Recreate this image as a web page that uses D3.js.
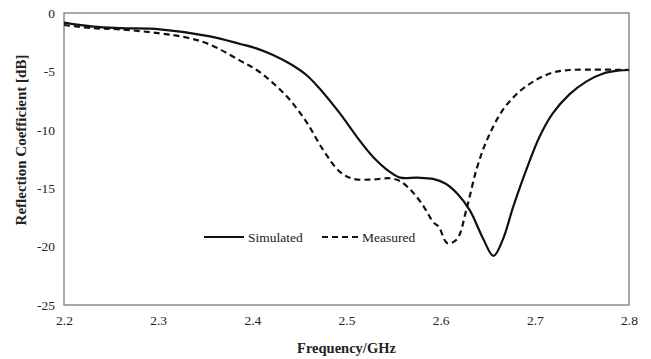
<!DOCTYPE html>
<html>
<head>
<meta charset="utf-8">
<script src="https://cdn.jsdelivr.net/npm/d3@7"></script>
<style>
  html, body { margin: 0; padding: 0; background: #fff; }
  svg { display: block; }
  text { font-family: "Liberation Serif", "Times New Roman", serif; fill: #222; }
</style>
</head>
<body>
<svg id="chart" width="651" height="359"></svg>
<script>
// Reflection coefficient (dB) vs frequency (GHz)
const simFreq = [2.2, 2.231, 2.26, 2.302, 2.355, 2.387, 2.405, 2.422, 2.44, 2.458, 2.475, 2.493, 2.511, 2.528, 2.546, 2.557, 2.575, 2.592, 2.605, 2.618, 2.631, 2.645, 2.656, 2.666, 2.677, 2.692, 2.705, 2.719, 2.737, 2.755, 2.772, 2.79, 2.8];
const simDb   = [-0.83, -1.17, -1.3, -1.4, -2.0, -2.65, -3.05, -3.6, -4.35, -5.35, -6.8, -8.6, -10.6, -12.3, -13.6, -14.1, -14.1, -14.2, -14.6, -15.5, -16.9, -19.3, -20.8, -19.4, -16.6, -13.2, -10.6, -8.6, -6.95, -5.85, -5.2, -4.92, -4.88];

const measFreq = [2.2, 2.231, 2.26, 2.302, 2.33, 2.355, 2.387, 2.405, 2.422, 2.44, 2.458, 2.475, 2.493, 2.507, 2.528, 2.546, 2.557, 2.571, 2.583, 2.592, 2.598, 2.607, 2.617, 2.628, 2.638, 2.649, 2.666, 2.684, 2.702, 2.719, 2.737, 2.8];
const measDb   = [-1.03, -1.3, -1.4, -1.75, -2.1, -2.7, -4.08, -4.9, -6.0, -7.45, -9.4, -11.7, -13.6, -14.2, -14.25, -14.15, -14.4, -15.4, -16.7, -17.9, -18.3, -19.7, -19.4, -16.6, -13.4, -10.9, -8.3, -6.7, -5.7, -5.1, -4.88, -4.88];

const xTicks = [2.2, 2.3, 2.4, 2.5, 2.6, 2.7, 2.8];
const yTicks = [0, -5, -10, -15, -20, -25];
const seriesNames = ["Simulated", "Measured"];

const svg = d3.select("#chart");
const m = { left: 64, top: 13, right: 22, bottom: 54 };
const W = 651, H = 359;

const x = d3.scaleLinear().domain([2.2, 2.8]).range([m.left, W - m.right]);
const y = d3.scaleLinear().domain([-25, 0]).range([H - m.bottom, m.top]);

// plot frame
svg.append("rect")
  .attr("x", x(2.2)).attr("y", y(0))
  .attr("width", x(2.8) - x(2.2)).attr("height", y(-25) - y(0))
  .attr("fill", "none").attr("stroke", "#6f6f6f").attr("stroke-width", 1.2);

// axes (labels only, no tick marks); plain hyphen for negatives
const xAxis = svg.append("g")
  .attr("transform", `translate(0,${y(-25)})`)
  .call(d3.axisBottom(x).tickValues(xTicks).tickFormat(d => d.toFixed(1)).tickSize(0).tickPadding(10));
const yAxis = svg.append("g")
  .attr("transform", `translate(${x(2.2)},0)`)
  .call(d3.axisLeft(y).tickValues(yTicks).tickFormat(d => String(d)).tickSize(0).tickPadding(9));
[xAxis, yAxis].forEach(a => {
  a.select(".domain").remove();
  a.selectAll("text").style("font-family", "'Liberation Serif', serif").style("font-size", "13.5px").attr("fill", "#333");
});

// axis titles
svg.append("text")
  .attr("x", (x(2.2) + x(2.8)) / 2).attr("y", 353)
  .attr("text-anchor", "middle")
  .style("font-size", "14.5px").style("font-weight", "bold")
  .text("Frequency/GHz");
svg.append("text")
  .attr("transform", "translate(26,140) rotate(-90)")
  .attr("text-anchor", "middle")
  .style("font-size", "15px").style("font-weight", "bold")
  .text("Reflection Coefficient [dB]");

// curves
const line = d3.line()
  .x(d => x(d[0])).y(d => y(d[1]))
  .curve(d3.curveCatmullRom.alpha(0.5));

svg.append("path")
  .datum(d3.zip(simFreq, simDb))
  .attr("d", line)
  .attr("fill", "none").attr("stroke", "#111").attr("stroke-width", 2.2);

svg.append("path")
  .datum(d3.zip(measFreq, measDb))
  .attr("d", line)
  .attr("fill", "none").attr("stroke", "#111").attr("stroke-width", 2.2)
  .attr("stroke-dasharray", "6,4");

// legend
const lg = svg.append("g").attr("transform", "translate(204,237)");
lg.append("line").attr("x1", 0).attr("x2", 40).attr("y1", 0).attr("y2", 0)
  .attr("stroke", "#111").attr("stroke-width", 2.2);
lg.append("text").attr("x", 44).attr("y", 4.5).style("font-size", "13.5px").text(seriesNames[0]);
lg.append("line").attr("x1", 118).attr("x2", 157).attr("y1", 0).attr("y2", 0)
  .attr("stroke", "#111").attr("stroke-width", 2.2).attr("stroke-dasharray", "6,4");
lg.append("text").attr("x", 158).attr("y", 4.5).style("font-size", "13.5px").text(seriesNames[1]);
</script>
</body>
</html>
